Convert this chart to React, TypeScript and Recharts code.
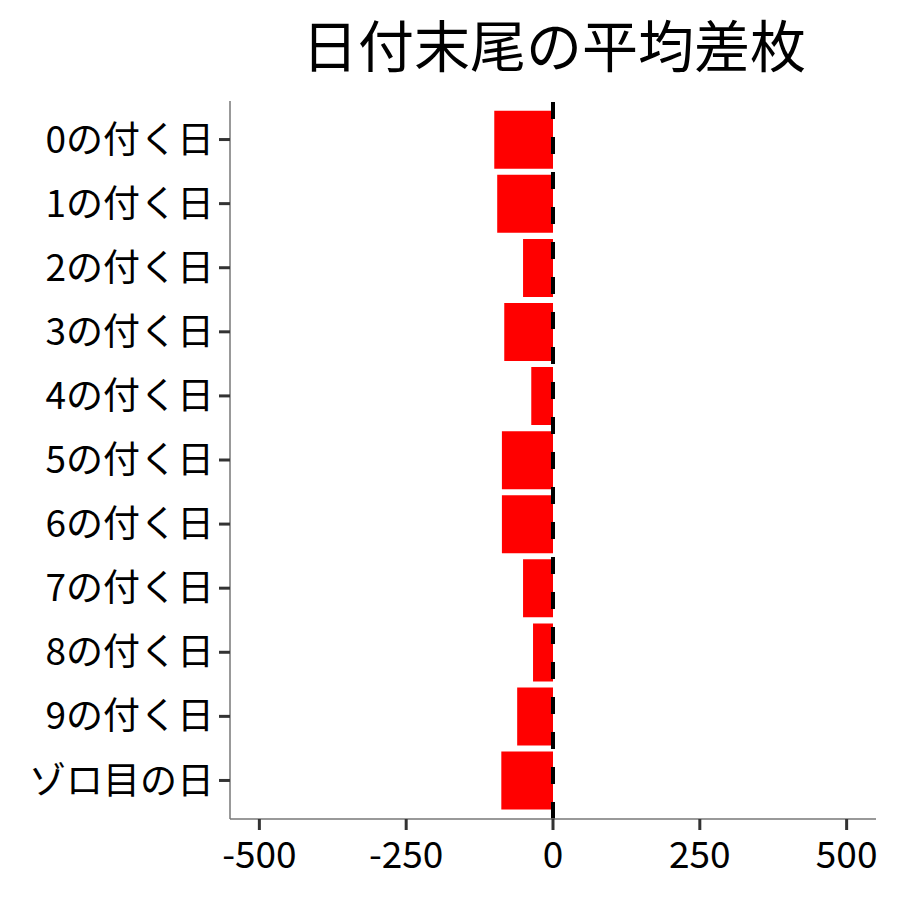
import React from 'react';
import { BarChart, Bar, XAxis, YAxis, ReferenceLine, Customized } from 'recharts';

const categories = ['0の付く日', '1の付く日', '2の付く日', '3の付く日', '4の付く日', '5の付く日', '6の付く日', '7の付く日', '8の付く日', '9の付く日', 'ゾロ目の日'];
const avgDiff = [-100, -95, -51, -83, -37, -87, -87, -51, -34, -61, -88];
const xTicks = [-500, -250, 0, 250, 500];
const title = '日付末尾の平均差枚';

const data = categories.map((name, i) => ({ name, value: avgDiff[i] }));

const FONT = '"Noto Sans CJK JP", "Noto Sans", sans-serif';

const Title = () => (
  <text x={554} y={67} textAnchor="middle" fontSize={56} fontFamily={FONT} fill="#000">
    {title}
  </text>
);

export default function App() {
  return (
    <div style={{ position: 'absolute', left: 0, top: 0, width: 900, height: 900, background: '#fff' }}>
      <BarChart
        width={900}
        height={900}
        data={data}
        layout="vertical"
        margin={{ top: 101, right: 24, bottom: 0, left: 0 }}
        barCategoryGap="5%"
      >
        <XAxis
          type="number"
          domain={[-550, 550]}
          ticks={xTicks}
          allowDataOverflow
          height={81}
          tickSize={11}
          tickMargin={12}
          axisLine={{ stroke: '#777', strokeWidth: 1.5 }}
          tickLine={{ stroke: '#333', strokeWidth: 3 }}
          tick={{ fill: '#000', fontSize: 37, fontFamily: FONT }}
        />
        <YAxis
          type="category"
          dataKey="name"
          width={230}
          interval={0}
          padding={{ top: 6.5, bottom: 6.5 }}
          tickSize={11}
          tickMargin={5}
          axisLine={{ stroke: '#777', strokeWidth: 1.5 }}
          tickLine={{ stroke: '#333', strokeWidth: 3 }}
          tick={{ fill: '#000', fontSize: 37, fontFamily: FONT }}
        />
        <Bar dataKey="value" fill="#ff0000" isAnimationActive={false} />
        <ReferenceLine x={0} stroke="#000" strokeWidth={4} strokeDasharray="17 18" />
        <Customized component={Title} />
      </BarChart>
    </div>
  );
}
